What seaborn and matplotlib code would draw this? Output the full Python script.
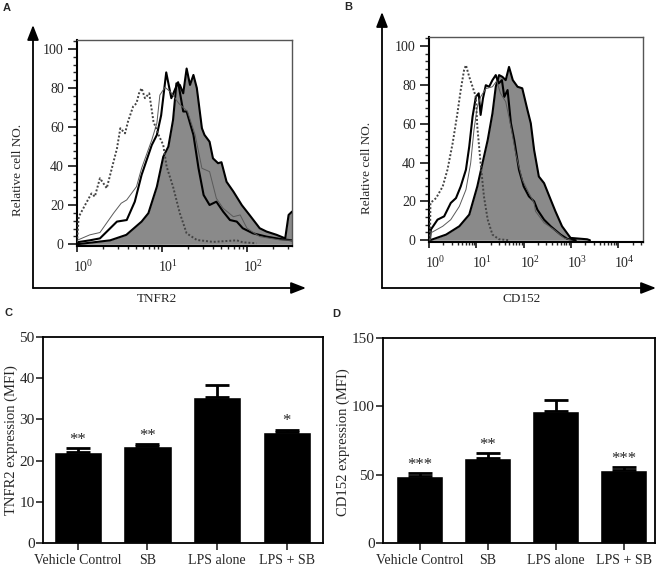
import matplotlib
matplotlib.use("Agg")
import matplotlib.pyplot as plt
import matplotlib.transforms as mtransforms
from matplotlib.ticker import AutoMinorLocator, LogLocator, MultipleLocator
import numpy as np
import seaborn as sns

sns.set_style("ticks")
plt.rcParams["font.family"] = ["Liberation Serif", "DejaVu Serif"]
plt.rcParams["mathtext.fontset"] = "custom"
plt.rcParams["mathtext.rm"] = "Liberation Serif"
plt.rcParams["mathtext.it"] = "Liberation Serif:italic"

# ---- histogram data (x in log10 units, y = relative cell number) ----
# Panel A: TNFR2
a_iso_log = [0.0, 0.02, 0.094, 0.17, 0.21, 0.27, 0.35, 0.41, 0.47, 0.51, 0.565, 0.60, 0.66, 0.70, 0.73,
             0.76, 0.80, 0.85, 0.90, 0.96, 1.015, 1.055, 1.13, 1.21, 1.29, 1.41, 1.6, 1.88, 1.95, 2.11]
a_iso_y = [1, 14, 20, 26, 24.4, 33.8, 28.7, 38.9, 49, 59.4, 56.8, 62.8, 70.5, 72.2, 77.3,
           79.9, 74.8, 77.3, 62.8, 56, 50.8, 39.7, 29.5, 15.9, 5.6, 2.2, 1.2, 2, 1, 0.5]

a_thin_log = [0.0, 0.15, 0.27, 0.43, 0.52, 0.585, 0.70, 0.76, 0.88, 0.94, 0.975, 1.035, 1.1, 1.2, 1.3,
              1.39, 1.47, 1.56, 1.64, 1.72, 1.84, 1.92, 2.0, 2.15, 2.39, 2.53]
a_thin_y = [2, 4.8, 6, 15.9, 21, 22.7, 29.5, 38.9, 53.4, 62, 76.4, 80.4, 78, 72, 68,
            56, 38.9, 37.2, 23.5, 18.4, 14.1, 15, 8.2, 3.9, 2.2, 2]

a_black_log = [0.0, 0.15, 0.27, 0.37, 0.47, 0.585, 0.68, 0.76, 0.88, 0.94, 0.99, 1.05, 1.11, 1.19, 1.25,
               1.29, 1.37, 1.43, 1.49, 1.56, 1.64, 1.72, 1.8, 1.88, 1.95, 2.07, 2.23, 2.39, 2.53]
a_black_y = [1, 2, 3, 7.3, 11.6, 12.4, 21.8, 35.5, 50.8, 56, 66, 88, 74.8, 83, 68,
             68, 56, 38.9, 25.2, 20.1, 21.8, 16.7, 12.4, 11.6, 8.2, 5.6, 3.9, 2.7, 2]

a_fill_log = [0.0, 0.39, 0.58, 0.76, 0.84, 0.94, 1.015, 1.075, 1.13, 1.17, 1.21, 1.25, 1.29, 1.33, 1.37,
              1.41, 1.47, 1.5, 1.56, 1.60, 1.66, 1.70, 1.76, 1.84, 1.94, 2.03, 2.15, 2.23, 2.35, 2.45,
              2.49, 2.53]
a_fill_y = [0, 2, 4.8, 11.6, 15.9, 29.5, 44.8, 50, 63.6, 82.4, 81.6, 77.3, 90, 81.6, 86.7,
            80, 59.4, 56, 52.5, 44, 41.5, 42, 32, 27, 20, 15, 8.2, 6.5, 4.8, 3,
            15, 16.7]

# Panel B: CD152
b_iso_log = [0.02, 0.03, 0.15, 0.29, 0.39, 0.5, 0.6, 0.67, 0.74, 0.78, 0.85, 0.92, 0.99, 1.02, 1.09,
             1.16, 1.24, 1.34, 1.48, 1.7]
b_iso_y = [0, 19.2, 21.7, 27.7, 36.3, 50, 65.3, 77.3, 87.5, 90.1, 84.1, 79, 73.8, 58.5, 39.7,
           22.6, 10.6, 2.9, 0.5, 0]

b_black_log = [0.02, 0.04, 0.18, 0.32, 0.46, 0.57, 0.67, 0.78, 0.85, 0.92, 0.99, 1.05, 1.09, 1.14, 1.2,
               1.27, 1.34, 1.41, 1.47, 1.54, 1.59, 1.66, 1.73, 1.8, 1.9, 2.0, 2.11, 2.22, 2.29, 2.43,
               2.57, 2.78, 2.92, 3.1]
b_black_y = [0, 5.5, 10.6, 12.3, 19.2, 21.7, 27.7, 36.3, 48.2, 63.6, 73.8, 75.6, 64.5, 73, 79.8,
             79, 82.4, 85, 80.7, 82.4, 73.8, 77.3, 60.2, 51.6, 36.3, 27.7, 22.6, 20, 15.7, 10.6,
             7.2, 2.9, 0.7, 0]

b_thin_log = [0.02, 0.04, 0.29, 0.46, 0.64, 0.78, 0.88, 0.95, 1.02, 1.09, 1.2, 1.34, 1.43, 1.51, 1.62,
              1.73, 1.83, 1.97, 2.11, 2.22, 2.25, 2.43, 2.64, 2.85, 3.0]
b_thin_y = [0, 3.8, 7.2, 10.6, 17.4, 26, 39.7, 56.8, 68.7, 73.8, 78, 79, 82, 75.6, 71.3,
            58.5, 44.8, 31.1, 24.3, 19.2, 14.9, 9, 5.5, 1.2, 0]

b_fill_log = [0.02, 0.36, 0.64, 0.85, 1.02, 1.13, 1.24, 1.34, 1.41, 1.48, 1.55, 1.62, 1.69, 1.77, 1.87,
              1.97, 2.08, 2.15, 2.22, 2.32, 2.43, 2.57, 2.67, 2.81, 2.99, 3.34, 3.4]
b_fill_y = [0, 2.9, 7.2, 13.2, 27.7, 39.7, 51.6, 65.3, 79, 85, 84.1, 82.4, 89.2, 82.4, 79,
            78.2, 67, 60.2, 46.5, 32.8, 29.4, 20.9, 14.9, 7.2, 1.2, 0.5, 0]

# ---- bar data ----
groups = ["Vehicle Control", "SB", "LPS alone", "LPS + SB"]
tnfr2_mean = [22.1, 23.5, 35.5, 27.0]
tnfr2_sem = [1.0, 0.5, 2.8, 0.5]
tnfr2_stars = ["**", "**", "", "*"]
cd152_mean = [48.8, 62.4, 96.8, 53.7]
cd152_sem = [2.2, 3.5, 7.8, 1.9]
cd152_stars = ["***", "**", "", "***"]

W, H = 661, 569
fig = plt.figure(figsize=(W / 100, H / 100), dpi=100)

# overlay in pixel coordinates for arrows / panel letters
ov = fig.add_axes([0, 0, 1, 1])
ov.set_xlim(0, W)
ov.set_ylim(H, 0)
ov.axis("off")


def px_axes(l, t, r, b):
    return fig.add_axes([l / W, 1 - b / H, (r - l) / W, (b - t) / H])


def arrow(x0, y0, x1, y1):
    ov.annotate("", xy=(x1, y1), xytext=(x0, y0),
                arrowprops=dict(arrowstyle="-|>,head_length=0.9,head_width=0.35",
                                color="black", lw=1.3, shrinkA=0, shrinkB=0,
                                mutation_scale=10))


def histogram_panel(ax, curves, xmax_log, xlabel, xlab_pos, ylab_pos):
    iso, thin, black, fill = curves
    fx = 10 ** np.array(fill[0])
    ax.fill_between(fx, fill[1], 0, color="#8a8a8a", lw=0, zorder=1)
    sns.lineplot(x=fx, y=fill[1], ax=ax, color="black", lw=1.5, estimator=None, sort=False, zorder=3)
    sns.lineplot(x=10 ** np.array(black[0]), y=black[1], ax=ax, color="black", lw=1.5,
                 estimator=None, sort=False, zorder=4)
    sns.lineplot(x=10 ** np.array(thin[0]), y=thin[1], ax=ax, color="#5a5a5a", lw=0.7,
                 estimator=None, sort=False, zorder=4)
    sns.lineplot(x=10 ** np.array(iso[0]), y=iso[1], ax=ax, color="#444444", lw=1.4,
                 linestyle=(0, (1, 1)), estimator=None, sort=False, zorder=4)
    ax.set_xscale("log")
    ax.set_xlim(1, 10 ** xmax_log)
    ax.set_ylim(-0.9, 104.6)
    ax.xaxis.set_major_locator(LogLocator(base=10))
    ax.yaxis.set_major_locator(MultipleLocator(20))
    ax.yaxis.set_minor_locator(AutoMinorLocator(5))
    ax.tick_params(axis="y", which="major", length=6.5, width=1.3, labelsize=10, pad=3)
    ax.tick_params(axis="y", which="minor", length=3, width=1)
    ax.tick_params(axis="x", which="major", length=4.5, width=1.3, labelsize=10, pad=5)
    ax.tick_params(axis="x", which="minor", length=2.5, width=1)
    for side in ["top", "right"]:
        ax.spines[side].set_color("#555555")
        ax.spines[side].set_linewidth(1)
    for side in ["left", "bottom"]:
        ax.spines[side].set_color("black")
        ax.spines[side].set_linewidth(1.5)
    shift = mtransforms.ScaledTranslation(0.06, 0, fig.dpi_scale_trans)
    for lab in ax.get_xticklabels():
        lab.set_transform(lab.get_transform() + shift)
    ax.set_xlabel(xlabel, fontsize=9.5, va="center")
    ax.xaxis.set_label_coords(*xlab_pos, transform=ov.transData)
    ax.set_ylabel("Relative cell NO.", fontsize=9.5, va="center")
    ax.yaxis.set_label_coords(*ylab_pos, transform=ov.transData)


def bar_panel(ax, means, sems, stars, ylim, ystep, ylabel, star_off, xlim, ylab_pos):
    sns.barplot(x=groups, y=means, order=groups, color="black", saturation=1, width=0.69,
                errorbar=None, ax=ax, zorder=2)
    ax.errorbar(range(len(groups)), means, yerr=[np.zeros(len(groups)), sems], fmt="none",
                ecolor="black", elinewidth=2, capsize=8.5, capthick=2, zorder=3)
    for i, s in enumerate(stars):
        if s:
            ax.text(i, means[i] + sems[i] + star_off, s, ha="center", va="center", fontsize=12)
    ax.set_ylim(*ylim)
    ax.set_xlim(*xlim)
    ax.yaxis.set_major_locator(MultipleLocator(ystep))
    ax.tick_params(axis="y", length=5, width=1.2, labelsize=11, pad=1)
    ax.tick_params(axis="x", length=5, width=1.2, labelsize=10, pad=3)
    for side in ax.spines.values():
        side.set_color("black")
        side.set_linewidth(1.3)
    ax.set_xlabel("")
    ax.set_ylabel(ylabel, fontsize=10.5, va="center")
    ax.yaxis.set_label_coords(*ylab_pos, transform=ov.transData)


# Panel A
axA = px_axes(77, 40, 292, 246)
histogram_panel(axA, [(a_iso_log, a_iso_y), (a_thin_log, a_thin_y), (a_black_log, a_black_y),
                      (a_fill_log, a_fill_y)], 2.53, "TNFR2", (157, 299), (18, 170))
arrow(33, 288, 33, 25)
arrow(33, 288, 306, 288)

# Panel B
axB = px_axes(429, 37, 643, 242)
histogram_panel(axB, [(b_iso_log, b_iso_y), (b_thin_log, b_thin_y), (b_black_log, b_black_y),
                      (b_fill_log, b_fill_y)], 4.52, "CD152", (522, 299), (367, 168))
arrow(382, 288, 382, 12)
arrow(382, 288, 656, 288)

# Panel C
axC = px_axes(43, 337, 323, 543)
bar_panel(axC, tnfr2_mean, tnfr2_sem, tnfr2_stars, (0, 50), 10, "TNFR2 expression (MFI)",
          2.0, (-0.5, 3.52), (11, 440))

# Panel D
axD = px_axes(383, 338, 655, 543)
bar_panel(axD, cd152_mean, cd152_sem, cd152_stars, (0, 150), 50, "CD152 expression (MFI)",
          6.0, (-0.54, 3.46), (343, 442))

for letter, (x, y) in {"A": (6.5, 8), "B": (348.5, 6.5), "C": (8.5, 313), "D": (336.5, 313.5)}.items():
    ov.text(x, y, letter, fontsize=8, fontweight="bold", family="Liberation Sans",
            ha="center", va="center")

fig.savefig("out.png", dpi=100)
